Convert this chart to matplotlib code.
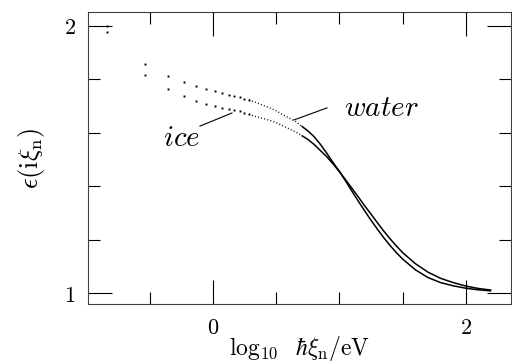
import matplotlib.pyplot as plt
from matplotlib.ticker import MultipleLocator

plt.rcParams['mathtext.fontset'] = 'cm'
plt.rcParams['font.family'] = 'serif'
plt.rcParams['font.serif'] = ['DejaVu Serif']

# sparse Matsubara points (log10 of hbar*xi_n / eV)
dot_x = [-0.838, -0.538, -0.356, -0.229, -0.134, -0.055, 0.015, 0.073, 0.124, 0.170, 0.211, 0.249, 0.284]
water_dot_y = [2.000, 1.858, 1.813, 1.790, 1.775, 1.764, 1.757, 1.749, 1.742, 1.738, 1.734, 1.727, 1.723]
ice_dot_y = [1.978, 1.816, 1.764, 1.738, 1.719, 1.708, 1.702, 1.694, 1.688, 1.684, 1.680, 1.673, 1.669]

# dense points, drawn dotted
dense_x = [0.284, 0.33, 0.41, 0.49, 0.57, 0.65, 0.70]
water_dense_y = [1.723, 1.715, 1.700, 1.685, 1.663, 1.643, 1.625]
ice_dense_y = [1.669, 1.662, 1.652, 1.640, 1.622, 1.604, 1.590]

# continuous part
line_x = [0.70, 0.75, 0.80, 0.85, 0.90, 0.95, 1.00, 1.05, 1.10, 1.15, 1.20, 1.25,
          1.30, 1.35, 1.40, 1.45, 1.50, 1.60, 1.70, 1.80, 1.90, 2.00, 2.10, 2.20]
water_y = [1.625, 1.607, 1.585, 1.556, 1.523, 1.488, 1.455, 1.418, 1.380, 1.343, 1.307, 1.272,
           1.239, 1.207, 1.178, 1.151, 1.127, 1.087, 1.058, 1.039, 1.027, 1.018, 1.012, 1.008]
ice_y = [1.590, 1.575, 1.556, 1.533, 1.510, 1.483, 1.454, 1.423, 1.391, 1.359, 1.326, 1.295,
         1.263, 1.232, 1.203, 1.176, 1.151, 1.110, 1.078, 1.055, 1.039, 1.026, 1.017, 1.011]

fig = plt.figure(figsize=(5.12, 3.62), dpi=100)
ax = fig.add_axes([0.1719, 0.1602, 0.8262, 0.8066])

for ys in (water_dot_y, ice_dot_y):
    ax.plot(dot_x, ys, ls='none', marker='s', ms=1.4, mew=0, color='k')
for ys in (water_dense_y, ice_dense_y):
    ax.plot(dense_x, ys, ls=(0, (0.7, 1.6)), lw=1.0, color='k')
for ys in (water_y, ice_y):
    ax.plot(line_x, ys, lw=1.1, color='k', solid_capstyle='butt')

# labels with leader lines
ax.plot([0.640, 0.901], [1.648, 1.693], lw=0.8, color='k')
ax.text(1.036, 1.693, r'$water$', fontsize=21, va='center', ha='left')
ax.plot([-0.103, 0.150], [1.625, 1.674], lw=0.8, color='k')
ax.text(-0.395, 1.580, r'$ice$', fontsize=21, va='center', ha='left')

ax.set_xlim(-0.988, 2.356)
ax.set_ylim(0.959, 2.052)
ax.set_xticks([0, 2], labels=['$0$', '$2$'])
ax.set_yticks([1, 2], labels=['$1$', '$2$'])
ax.xaxis.set_minor_locator(MultipleLocator(0.5))
ax.yaxis.set_minor_locator(MultipleLocator(0.2))
ax.tick_params(which='both', direction='in', top=True, right=True, width=0.8,
               labelsize=16, pad=9)
ax.tick_params(which='major', length=17)
ax.tick_params(which='minor', length=8.5)
for s in ax.spines.values():
    s.set_linewidth(0.8)
    s.set_color('0.25')

ax.set_xlabel(r'$\log_{10}\ \ \hbar\xi_{\rm n}/{\rm eV}$', fontsize=17, labelpad=-3)
ax.set_ylabel(r'$\epsilon({\rm i}\xi_{\rm n})$', fontsize=19, labelpad=12)

fig.savefig('out.png', dpi=100)
